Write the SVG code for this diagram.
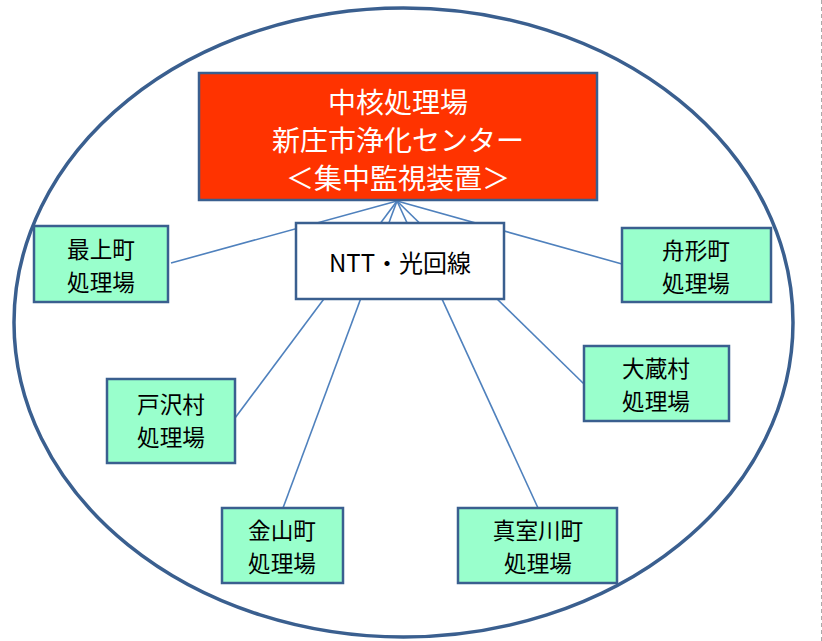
<svg xmlns="http://www.w3.org/2000/svg" width="822" height="641" viewBox="0 0 822 641">
<style>
.site{fill:#99ffcc;stroke:#3a5f8f;stroke-width:2.5}
.st{font-family:"Noto Sans CJK JP","Noto Sans CJK SC",sans-serif;font-size:22.6px;fill:#000;text-anchor:middle}
.ct{font-family:"Noto Sans CJK JP","Noto Sans CJK SC",sans-serif;font-size:28px;fill:#fff;text-anchor:middle}
.conn line{stroke:#4f81bd;stroke-width:1.6}
</style>
<rect width="822" height="641" fill="#fff"/>
<line x1="821.5" y1="0" x2="821.5" y2="641" stroke="#aaa" stroke-width="1" stroke-dasharray="4,3"/>
<ellipse id="boundary" cx="403.5" cy="322.5" rx="389.5" ry="314.5" fill="none" stroke="#3a5f8f" stroke-width="3.5"/>
<g class="conn" id="connectors">
<line x1="397" y1="201" x2="171" y2="263"/>
<line x1="397" y1="201" x2="622" y2="264"/>
<line x1="397" y1="201" x2="235" y2="418"/>
<line x1="397" y1="201" x2="584" y2="384"/>
<line x1="397" y1="201" x2="283" y2="508"/>
<line x1="397" y1="201" x2="538" y2="508"/>
</g>
<g id="center">
<rect x="199" y="73" width="398" height="127" fill="#ff3300" stroke="#3a5f8f" stroke-width="2.5"/>
<text class="ct"><tspan x="398" y="113">中核処理場</tspan><tspan x="398" y="151">新庄市浄化センター</tspan><tspan x="398" y="189">＜集中監視装置＞</tspan></text>
</g>
<g id="ntt">
<rect x="296" y="223" width="208" height="76" fill="#fff" stroke="#3a5f8f" stroke-width="2.5"/>
<text x="400" y="272" font-family="'Noto Sans CJK JP','Noto Sans CJK SC',sans-serif" font-size="24" text-anchor="middle">NTT・光回線</text>
</g>
<g id="mogami">
<rect class="site" x="34" y="226" width="134" height="76"/>
<text class="st"><tspan x="101" y="258">最上町</tspan><tspan x="101" y="291">処理場</tspan></text>
</g>
<g id="funagata">
<rect class="site" x="622" y="228" width="149" height="74"/>
<text class="st"><tspan x="696" y="259">舟形町</tspan><tspan x="696" y="292">処理場</tspan></text>
</g>
<g id="tozawa">
<rect class="site" x="107" y="379" width="128" height="84"/>
<text class="st"><tspan x="171" y="413">戸沢村</tspan><tspan x="171" y="446">処理場</tspan></text>
</g>
<g id="okura">
<rect class="site" x="584" y="346" width="145" height="75"/>
<text class="st"><tspan x="656" y="377">大蔵村</tspan><tspan x="656" y="410">処理場</tspan></text>
</g>
<g id="kaneyama">
<rect class="site" x="222" y="508" width="121" height="75"/>
<text class="st"><tspan x="282" y="539">金山町</tspan><tspan x="282" y="572">処理場</tspan></text>
</g>
<g id="mamurogawa">
<rect class="site" x="458" y="508" width="159" height="75"/>
<text class="st"><tspan x="538" y="539">真室川町</tspan><tspan x="538" y="572">処理場</tspan></text>
</g>
</svg>
